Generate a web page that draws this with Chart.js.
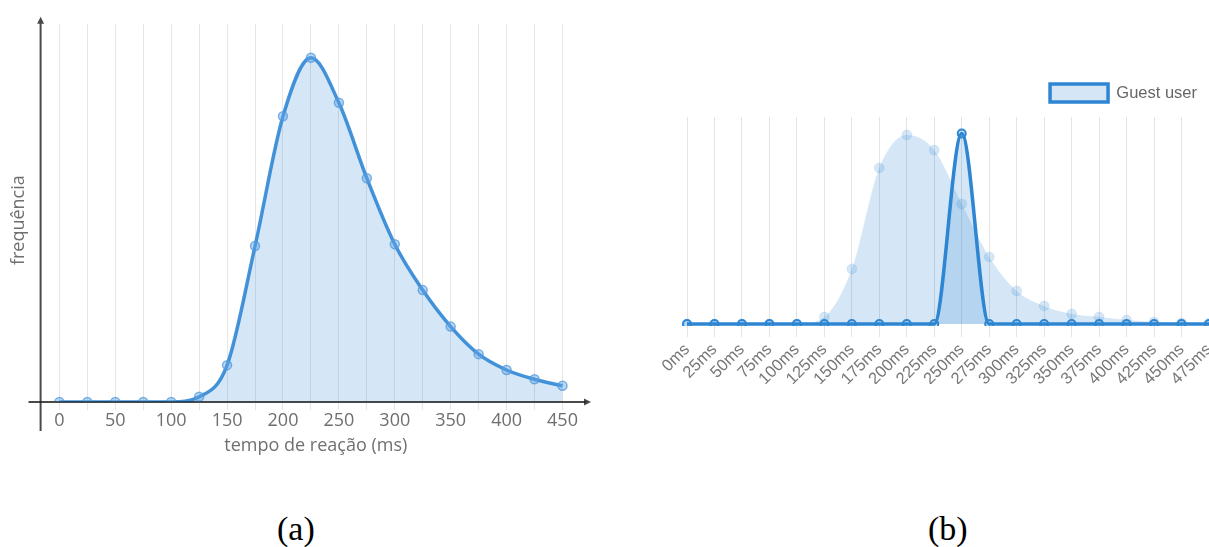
<!DOCTYPE html>
<html><head><meta charset="utf-8">
<script src="https://cdn.jsdelivr.net/npm/chart.js@4"></script>
<style>
html,body{margin:0;padding:0;background:#fff;overflow:hidden;width:1209px;height:547px;}
#ca{position:absolute;left:0;top:0;}
#cb{position:absolute;left:660px;top:72px;}
.cap{position:absolute;font-family:"Liberation Serif","Times New Roman",serif;font-size:34px;color:#000;line-height:34px;}
</style></head><body>
<canvas id="ca" width="600" height="466"></canvas>
<canvas id="cb" width="549" height="312"></canvas>
<div class="cap" style="left:277px;top:512px">(a)</div>
<div class="cap" style="left:928px;top:512px">(b)</div>
<script>
// ---- Chart (a) data ----
const reactionTimes = [0,25,50,75,100,125,150,175,200,225,250,275,300,325,350,375,400,425,450];
const frequency = [0,0,0,0,0,1.5,10.7,45.3,83,100,86.9,65,45.8,32.5,21.9,13.9,9.3,6.6,4.7];
const xTickLabelsA = [0,50,100,150,200,250,300,350,400,450];

// ---- Chart (b) data ----
const categoriesB = ['0ms','25ms','50ms','75ms','100ms','125ms','150ms','175ms','200ms','225ms','250ms','275ms','300ms','325ms','350ms','375ms','400ms','425ms','450ms','475ms'];
const guestUser = [0,0,0,0,0,0,0,0,0,0,92,0,0,0,0,0,0,0,0,0];
const population = [0,0,0,0,0,3.4,26.6,75.4,91.3,84,58,32.4,16,8.7,4.8,3.4,1.9,1,0.5,0.25];

const blue = 'rgb(46,134,210)';
const blueFill = 'rgba(47,134,211,0.2)';

function xAxisLine(ctx, a) {
  ctx.beginPath();
  ctx.moveTo(a.left - 12, a.bottom);
  ctx.lineTo(a.right - 5, a.bottom);
  ctx.stroke();
}

const axesA = {
  id: 'axesA',
  beforeDatasetsDraw(chart) {
    const {ctx, chartArea: a} = chart;
    ctx.save();
    ctx.lineWidth = 2;
    ctx.strokeStyle = '#888888';
    xAxisLine(ctx, a);
    ctx.fillStyle = '#4a4a4a';
    ctx.strokeStyle = '#4a4a4a';
    ctx.beginPath();
    ctx.moveTo(a.right, a.bottom);
    ctx.lineTo(a.right - 7, a.bottom - 3.5);
    ctx.lineTo(a.right - 7, a.bottom + 3.5);
    ctx.closePath();
    ctx.fill();
    ctx.beginPath();
    ctx.moveTo(a.left, a.bottom + 29);
    ctx.lineTo(a.left, a.top - 2);
    ctx.stroke();
    ctx.beginPath();
    ctx.moveTo(a.left, a.top - 7.5);
    ctx.lineTo(a.left - 3.5, a.top - 0.5);
    ctx.lineTo(a.left + 3.5, a.top - 0.5);
    ctx.closePath();
    ctx.fill();
    ctx.restore();
  },
  afterDatasetsDraw(chart) {
    const {ctx, chartArea: a} = chart;
    ctx.save();
    ctx.globalCompositeOperation = 'multiply';
    ctx.lineWidth = 2;
    ctx.strokeStyle = '#888888';
    xAxisLine(ctx, a);
    ctx.restore();
  }
};

new Chart(document.getElementById('ca'), {
  type: 'line',
  data: {
    datasets: [{
      data: reactionTimes.map((x, i) => ({x: x, y: frequency[i]})),
      borderColor: 'rgba(36,128,210,0.85)',
      borderWidth: 3.5,
      backgroundColor: blueFill,
      fill: 'origin',
      cubicInterpolationMode: 'monotone',
      pointRadius: 4.5,
      pointBorderWidth: 1.5,
      pointBackgroundColor: 'rgba(100,165,228,0.45)',
      pointBorderColor: 'rgba(80,155,222,0.75)'
    }]
  },
  options: {
    responsive: false,
    animation: false,
    layout: {padding: {left: 4, top: 24.3, right: 9, bottom: 2}},
    plugins: {legend: {display: false}, tooltip: {enabled: false}},
    scales: {
      x: {
        type: 'linear',
        min: -16.8,
        max: 475.5,
        afterBuildTicks: (scale) => { scale.ticks = reactionTimes.map(v => ({value: v})); },
        grid: {color: '#e6e6e6', tickLength: 8, drawTicks: true},
        border: {display: false},
        ticks: {
          autoSkip: false, padding: 0, maxRotation: 0,
          color: '#6e6e6e',
          font: {family: 'Open Sans', size: 18},
          callback: (v) => xTickLabelsA.includes(v) ? String(v) : ''
        },
        title: {display: true, text: 'tempo de reação (ms)', color: '#707070',
                font: {family: 'Open Sans', size: 18}, padding: {top: 3.6, bottom: 7.2}}
      },
      y: {
        min: 0, max: 109.7,
        grid: {display: false, drawTicks: false},
        border: {display: false},
        ticks: {display: false},
        title: {display: true, text: 'frequência\u00a0\u00a0\u00a0', color: '#707070',
                font: {family: 'Open Sans', size: 18}, padding: {top: 4, bottom: 11}}
      }
    }
  },
  plugins: [axesA]
});

const legendGap = {
  id: 'legendGap',
  beforeLayout(chart) {
    const l = chart.legend;
    if (l && !l._gapPatched) {
      const f = l.fit;
      l.fit = function () { f.call(this); this.height += 5; };
      l._gapPatched = true;
    }
  }
};

new Chart(document.getElementById('cb'), {
  type: 'line',
  data: {
    labels: categoriesB,
    datasets: [{
      label: 'Guest user',
      data: guestUser,
      borderColor: blue,
      borderWidth: 3.5,
      backgroundColor: blueFill,
      fill: 'origin',
      cubicInterpolationMode: 'monotone',
      pointRadius: 4,
      pointBorderWidth: 2,
      pointBackgroundColor: blueFill,
      pointBorderColor: blue,
      clip: {left: 10, top: 10, right: 10, bottom: 2}
    }, {
      label: 'Population',
      data: population,
      borderColor: 'rgba(0,0,0,0)',
      borderWidth: 1,
      backgroundColor: blueFill,
      fill: 'origin',
      cubicInterpolationMode: 'monotone',
      pointRadius: 5,
      pointBorderWidth: 1,
      pointBackgroundColor: blueFill,
      pointBorderColor: 'rgba(47,134,211,0.1)',
      clip: {left: 10, top: 10, right: 10, bottom: 2}
    }]
  },
  options: {
    responsive: false,
    animation: false,
    layout: {padding: 0, autoPadding: false},
    plugins: {
      tooltip: {enabled: false},
      legend: {
        position: 'top', align: 'end',
        labels: {
          boxWidth: 58, boxHeight: 18, padding: 12, color: '#666',
          font: {family: 'Liberation Sans', size: 16.5},
          filter: (item) => item.datasetIndex === 0
        }
      }
    },
    scales: {
      x: {
        grid: {color: '#e3e3e3', tickLength: 13},
        border: {display: false},
        ticks: {autoSkip: false, minRotation: 45, maxRotation: 45, padding: 3,
                color: '#777', font: {family: 'Liberation Sans', size: 16.5}},
        afterFit: (scale) => { scale.paddingLeft = 27; scale.paddingRight = 0; scale.height = 60; }
      },
      y: {display: false, min: 0, max: 100}
    }
  },
  plugins: [legendGap]
});
</script>
</body></html>
